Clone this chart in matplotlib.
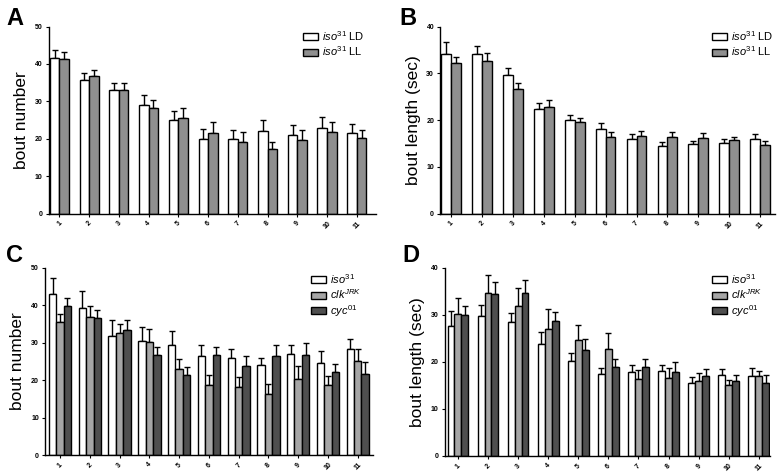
import numpy as np
import matplotlib
matplotlib.use("Agg")
import matplotlib.pyplot as plt

plt.rcParams['font.family'] = ['Liberation Sans', 'DejaVu Sans']
plt.rcParams['mathtext.fontset'] = 'custom'
plt.rcParams['mathtext.rm'] = 'Liberation Sans'
plt.rcParams['mathtext.it'] = 'Liberation Sans:italic'

categories = ['1', '2', '3', '4', '5', '6', '7', '8', '9', '10', '11']

# Panel A: bout number, iso31 LD vs LL
A_ld = [41.6, 35.6, 33.0, 29.1, 25.0, 20.1, 19.9, 22.1, 21.1, 22.8, 21.7]
A_ld_err = [2.2, 2.1, 2.0, 2.5, 2.4, 2.5, 2.4, 2.9, 2.5, 3.0, 2.4]
A_ll = [41.4, 36.9, 33.1, 28.3, 25.7, 21.7, 19.2, 17.3, 19.7, 21.9, 20.2]
A_ll_err = [1.7, 1.6, 1.9, 2.2, 2.6, 2.7, 2.6, 1.8, 2.7, 2.6, 2.1]

# Panel B: bout length, iso31 LD vs LL
B_ld = [34.2, 34.2, 29.7, 22.3, 20.1, 18.2, 15.9, 14.5, 14.8, 15.2, 16.0]
B_ld_err = [2.4, 1.7, 1.4, 1.4, 1.0, 1.1, 1.1, 0.9, 0.7, 0.8, 1.1]
B_ll = [32.2, 32.6, 26.6, 22.8, 19.5, 16.5, 16.6, 16.5, 16.1, 15.8, 14.6]
B_ll_err = [1.4, 1.8, 1.4, 1.4, 0.9, 1.0, 1.0, 1.0, 1.1, 0.7, 0.9]

# Panel C: bout number, iso31 / clkJRK / cyc01
C_iso = [43.0, 39.4, 31.9, 30.4, 29.4, 26.4, 25.8, 24.1, 27.0, 24.6, 28.2]
C_iso_err = [4.3, 4.3, 4.2, 3.9, 3.6, 2.9, 2.6, 1.9, 2.4, 3.2, 2.9]
C_clk = [35.4, 36.8, 32.5, 30.3, 23.1, 18.7, 18.2, 16.3, 20.3, 18.7, 25.1]
C_clk_err = [2.2, 2.9, 2.4, 3.4, 2.5, 2.7, 2.6, 2.7, 3.6, 2.5, 3.1]
C_cyc = [39.8, 36.7, 33.5, 26.7, 21.5, 26.6, 23.7, 26.4, 26.7, 22.3, 21.6]
C_cyc_err = [2.2, 1.9, 2.5, 2.1, 2.1, 2.3, 2.7, 2.9, 3.2, 2.0, 3.3]

# Panel D: bout length, iso31 / clkJRK / cyc01
D_iso = [27.7, 29.8, 28.4, 23.9, 20.2, 17.5, 17.8, 18.0, 15.6, 17.2, 17.0]
D_iso_err = [3.1, 2.3, 2.0, 2.5, 1.7, 1.1, 1.5, 1.4, 1.2, 1.3, 1.6]
D_clk = [30.1, 34.6, 31.8, 27.0, 24.6, 22.7, 16.3, 16.6, 15.9, 15.1, 16.9]
D_clk_err = [3.4, 3.8, 4.0, 4.3, 3.3, 3.4, 2.0, 2.0, 1.7, 1.1, 1.2]
D_cyc = [29.9, 34.4, 34.7, 28.6, 22.6, 19.0, 18.9, 17.8, 16.9, 16.0, 15.6]
D_cyc_err = [2.0, 2.5, 2.7, 2.1, 2.3, 1.7, 1.8, 2.1, 1.5, 1.2, 1.6]

labels2 = [r'$\mathit{iso}^{\mathit{31}}$ LD', r'$\mathit{iso}^{\mathit{31}}$ LL']
labels3 = [r'$\mathit{iso}^{\mathit{31}}$', r'$\mathit{clk}^{\mathit{JRK}}$', r'$\mathit{cyc}^{\mathit{01}}$']

fig = plt.figure(figsize=(7.78, 4.74), dpi=100)

def panel(rect, series, errs, colors, labels, ylabel, ymax, width, xlim, letter, letter_pos, leg_anchor):
    ax = fig.add_axes(rect)
    x = np.arange(len(categories))
    n = len(series)
    for i, (vals, e, c, lab) in enumerate(zip(series, errs, colors, labels)):
        off = (i - (n - 1) / 2) * width
        ax.bar(x + off, vals, width=width, color=c, edgecolor='black', linewidth=1.0,
               label=lab, zorder=2)
        ax.errorbar(x + off, vals, yerr=[np.zeros(len(vals)), e], fmt='none',
                    ecolor='black', elinewidth=1.0, capsize=2, capthick=1.0, zorder=1)
    ax.set_ylim(0, ymax)
    ax.set_xlim(*xlim)
    ax.set_yticks(np.arange(0, ymax + 1, 10))
    ax.set_xticks(x)
    ax.set_xticklabels(categories, rotation=45, fontsize=5, fontweight='bold')
    for t in ax.get_yticklabels():
        t.set_fontsize(5)
        t.set_fontweight('bold')
    ax.tick_params(axis='both', length=2.5, width=0.8, pad=2)
    for s in ['top', 'right']:
        ax.spines[s].set_visible(False)
    for s in ['left', 'bottom']:
        ax.spines[s].set_linewidth(1.0)
    ax.set_ylabel(ylabel, fontsize=12.5, labelpad=4)
    ax.legend(loc='upper right', bbox_to_anchor=leg_anchor, frameon=False,
              fontsize=8, handlelength=1.3, handleheight=0.6,
              handletextpad=0.4, labelspacing=0.15, borderpad=0.2)
    fig.text(letter_pos[0], letter_pos[1], letter, fontsize=17, fontweight='bold',
             ha='left', va='top')
    return ax

white = 'white'
mid = '#8f8f8f'
light = '#a6a6a6'
dark = '#4f4f4f'

panel([0.063, 0.549, 0.420, 0.395], [A_ld, A_ll], [A_ld_err, A_ll_err],
      [white, mid], labels2, 'bout number', 50, 0.32, (-0.35, 10.64), 'A',
      (0.008, 0.985), (0.99, 1.03))
panel([0.566, 0.549, 0.430, 0.395], [B_ld, B_ll], [B_ld_err, B_ll_err],
      [white, mid], labels2, 'bout length (sec)', 40, 0.32, (-0.35, 10.48), 'B',
      (0.513, 0.985), (1.02, 1.03))
panel([0.058, 0.040, 0.421, 0.395], [C_iso, C_clk, C_cyc], [C_iso_err, C_clk_err, C_cyc_err],
      [white, light, dark], labels3, 'bout number', 50, 0.25, (-0.5, 10.5), 'C',
      (0.008, 0.485), (0.99, 1.02))
panel([0.572, 0.038, 0.418, 0.397], [D_iso, D_clk, D_cyc], [D_iso_err, D_clk_err, D_cyc_err],
      [white, light, dark], labels3, 'bout length (sec)', 40, 0.23, (-0.43, 10.38), 'D',
      (0.517, 0.485), (1.0, 1.02))

fig.savefig('out.png', dpi=100)
